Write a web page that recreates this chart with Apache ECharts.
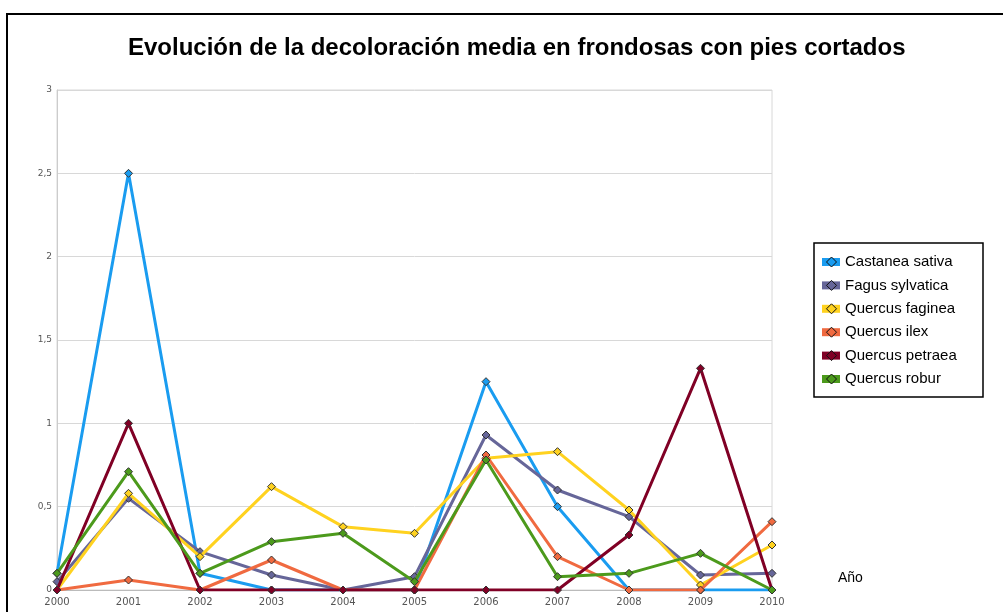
<!DOCTYPE html>
<html><head><meta charset="utf-8">
<script src="https://cdn.jsdelivr.net/npm/echarts@6/dist/echarts.min.js"></script>
<style>html,body{margin:0;padding:0;background:#fff}#c{width:1003px;height:612px}</style>
</head><body><div id="c"></div>
<script>
const years = ['2000','2001','2002','2003','2004','2005','2006','2007','2008','2009','2010'];
const seriesNames = ['Castanea sativa','Fagus sylvatica','Quercus faginea','Quercus ilex','Quercus petraea','Quercus robur'];
const castanea = [0.1, 2.5, 0.1, 0, 0, 0, 1.25, 0.5, 0, 0, 0];
const fagus    = [0.05, 0.55, 0.23, 0.09, 0, 0.08, 0.93, 0.6, 0.44, 0.09, 0.1];
const faginea  = [0, 0.58, 0.2, 0.62, 0.38, 0.34, 0.79, 0.83, 0.48, 0.03, 0.27];
const ilex     = [0, 0.06, 0, 0.18, 0, 0, 0.81, 0.2, 0, 0, 0.41];
const petraea  = [0, 1, 0, 0, 0, 0, 0, 0, 0.33, 1.33, 0];
const robur    = [0.1, 0.71, 0.1, 0.29, 0.34, 0.05, 0.78, 0.08, 0.1, 0.22, 0];
const yTicks = [0, 0.5, 1, 1.5, 2, 2.5, 3];

const values = [castanea, fagus, faginea, ilex, petraea, robur];
const colors = ['#1a9cf0','#666699','#ffd21f','#f06a40','#800025','#4c9a1c'];
const drawOrder = [0,1,2,3,5,4];

const chart = echarts.init(document.getElementById('c'));
const series = drawOrder.map(i => ({
  name: seriesNames[i], type: 'line', data: values[i],
  symbol: 'diamond', symbolSize: 8, showSymbol: true,
  lineStyle: {color: colors[i], width: 3},
  itemStyle: {color: colors[i], borderColor: '#333', borderWidth: 1},
  z: 2 + i, animation: false
}));
const legendBase = {
  orient: 'vertical', left: 822, top: 254, itemGap: 7.4, padding: 0,
  data: seriesNames, selectedMode: false,
  textStyle: {fontFamily: 'Liberation Sans, Arial', fontSize: 15, color: '#000', lineHeight: 16}
};
chart.setOption({
  animation: false,
  title: {
    text: 'Evolución de la decoloración media en frondosas con pies cortados',
    left: 123, top: 31,
    textStyle: {fontFamily: 'Liberation Sans, Arial', fontSize: 24, fontWeight: 'bold', color: '#000'}
  },
  color: colors,
  legend: [
    Object.assign({}, legendBase, {icon: 'rect', itemWidth: 18, itemHeight: 8, itemStyle: {borderWidth: 0}}),
    Object.assign({}, legendBase, {left: 826, icon: 'diamond', itemWidth: 10, itemHeight: 10,
      itemStyle: {borderColor: '#111', borderWidth: 1},
      textStyle: Object.assign({}, legendBase.textStyle, {color: 'rgba(0,0,0,0)'})})
  ],
  grid: {left: 57, right: 231, top: 90, bottom: 22, containLabel: false,
    show: true, borderColor: '#d8d8d8', borderWidth: 1},
  xAxis: {
    type: 'category', data: years, boundaryGap: false,
    axisLine: {lineStyle: {color: '#bbb'}}, axisTick: {show: false},
    axisLabel: {color: '#555', fontSize: 10, margin: 7, fontFamily: 'DejaVu Sans'},
    splitLine: {show: false}
  },
  yAxis: {
    type: 'value', min: yTicks[0], max: yTicks[yTicks.length-1], interval: 0.5,
    axisLine: {show: true, lineStyle: {color: '#ccc'}}, axisTick: {show: false},
    axisLabel: {color: '#555', fontSize: 9, margin: 5, fontFamily: 'DejaVu Sans',
      formatter: v => String(v).replace('.', ',')},
    splitLine: {lineStyle: {color: '#d8d8d8', width: 1}}
  },
  graphic: [
    {type: 'rect', shape: {x: 7, y: 14, width: 1100, height: 700}, style: {fill: 'none', stroke: '#000', lineWidth: 2}, silent: true},
    {type: 'rect', shape: {x: 814, y: 243, width: 169, height: 154}, style: {fill: 'none', stroke: '#000', lineWidth: 1.5}, silent: true},
    {type: 'text', left: 838, top: 571, style: {text: 'Año', fontFamily: 'Liberation Sans, Arial', fontSize: 14, fill: '#000'}}
  ],
  series: series
});
</script></body></html>
